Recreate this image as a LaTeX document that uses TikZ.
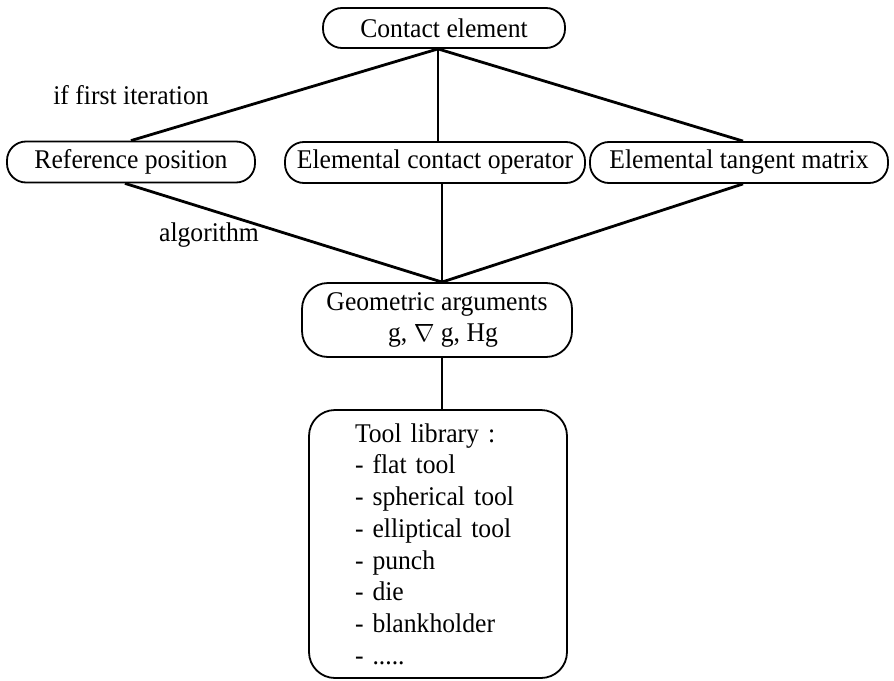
\documentclass[tikz,border=0pt]{standalone}
\usepackage{fontspec}
\setmainfont{Liberation Serif}[FakeStretch=0.95]
\usetikzlibrary{calc}
\begin{document}
\begin{tikzpicture}[x=1pt,y=-1pt,
  box/.style={draw,line width=1.8pt,rounded corners=19pt,inner sep=0pt,
    font=\fontsize{27}{31.7}\selectfont},
  bigbox/.style={box,rounded corners=26pt},
  lbl/.style={inner sep=0pt,font=\fontsize{27}{31.7}\selectfont},
  fan/.style={line width=2.8pt},
  thin/.style={line width=1.4pt}]
\useasboundingbox (0,0) rectangle (894,680);
\node[box,minimum width=242pt,minimum height=40pt] (contact) at (444,28) {Contact element};
\node[box,minimum width=248pt,minimum height=41pt] (ref) at (131,162) {Reference position\hspace{10pt}};
\node[box,minimum width=300pt,minimum height=41pt] (op) at (435,162.5) {Elemental contact operator\hspace{8pt}};
\node[box,minimum width=298pt,minimum height=41pt] (tan) at (739,162.5) {Elemental tangent matrix};
\node[bigbox,minimum width=270pt,minimum height=74pt,align=center] (geo) at (437,320)
  {Geometric arguments\\\hspace{12pt}g, $\nabla$ g, Hg};
\node[bigbox,minimum width=258pt,minimum height=268pt,align=left,text width=166pt,
  inner xsep=46pt] (tool) at (438,544)
  {Tool library :\\- flat tool\\- spherical tool\\- elliptical tool\\- punch\\- die\\- blankholder\\- .....};
\node[lbl] (lfirst) at (131,95) {if first iteration};
\node[lbl] (lalg) at (209,235) {algorithm};
\coordinate (apex) at ($(contact.south)+(-6,0)$);
\coordinate (gtop) at ($(geo.north)+(5,0)$);
\draw[fan] (apex) -- (ref.north);
\draw[fan] (apex) -- ($(tan.north)+(4,0)$);
\draw[thin] (apex) -- (apex |- op.north);
\draw[fan] ($(ref.south)+(-6,0)$) -- (gtop);
\draw[fan] ($(tan.south)+(4,0)$) -- (gtop);
\draw[thin] (gtop |- op.south) -- (gtop);
\draw[thin] (gtop |- geo.south) -- (gtop |- tool.north);
\end{tikzpicture}
\end{document}
